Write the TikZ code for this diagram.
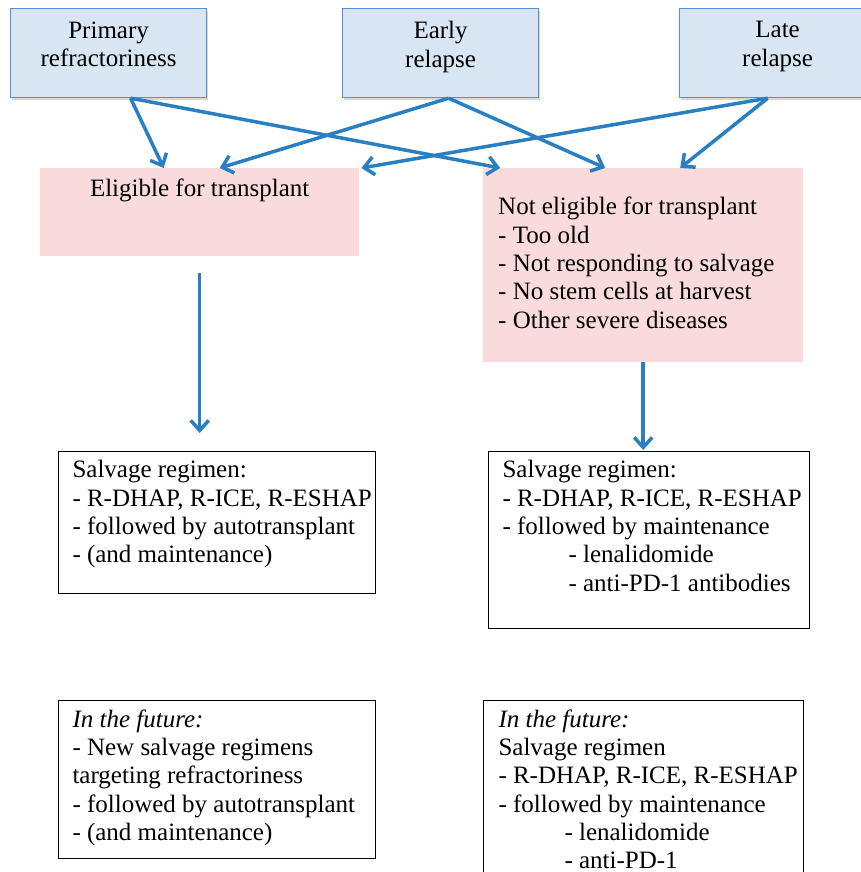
\documentclass[tikz,border=0pt]{standalone}
\usepackage{fontspec}
\setmainfont{Liberation Serif}
\usetikzlibrary{arrows.meta, positioning, shadows}
\definecolor{topfill}{RGB}{216,229,242}
\definecolor{topline}{RGB}{84,144,204}
\definecolor{pinkfill}{RGB}{250,219,219}
\definecolor{arrblue}{RGB}{42,126,194}
\tikzstyle{topbox}=[draw=topline, line width=1.2pt, fill=topfill, anchor=north west, inner xsep=8pt, inner ysep=13pt, drop shadow={shadow xshift=1.5pt, shadow yshift=-2pt, fill=black!30}]
\tikzstyle{pinkbox}=[fill=pinkfill, anchor=north west, inner xsep=4pt]
\tikzstyle{regbox}=[draw=black, line width=1pt, anchor=north west, inner xsep=4pt, inner ysep=9pt]
\tikzstyle{arr}=[line width=3.5pt, draw=arrblue, -{Straight Barb[length=10pt, width=18pt]}]
\newcommand{\boxlines}[3]{\parbox[t][#1][t]{#2}{\raggedright\rightskip=-30pt plus 1fil\leftskip=10pt #3}}

\begin{document}
\begin{tikzpicture}[x=1pt, y=-1pt, font=\fontsize{25}{28.3}\selectfont]
    \path[use as bounding box, fill=white] (0,0) rectangle (861,872);

    % causes
    \node[topbox] (prim) at (10,8) {\boxlines{63pt}{180pt}{\centering Primary\\refractoriness}};
    \node[topbox] (early) at (342,8) {\boxlines{63pt}{180pt}{\centering Early\\relapse}};
    \node[topbox] (late) at (679,8) {\boxlines{63pt}{180pt}{\centering Late\\relapse}};

    % eligibility
    \node[pinkbox, inner ysep=11pt] (elig) at (40,168)
        {\boxlines{66pt}{311pt}{\centering Eligible for transplant}};
    \node[pinkbox, inner ysep=29pt] (nel) at (483,168)
        {\boxlines{136pt}{312pt}{\leftskip=11pt Not eligible for transplant\\
        - Too old\\
        - Not responding to salvage\\
        - No stem cells at harvest\\
        - Other severe diseases}};

    % current treatment
    \node[regbox] (sl) at (58,451)
        {\boxlines{124pt}{309pt}{Salvage regimen:\\
        - R-DHAP, R-ICE, R-ESHAP\\
        - followed by autotransplant\\
        - (and maintenance)}};
    \node[regbox] (sr) at (488,451)
        {\boxlines{159pt}{313pt}{Salvage regimen:\\
        - R-DHAP, R-ICE, R-ESHAP\\
        - followed by maintenance\\
        \hspace*{66pt}- lenalidomide\\
        \hspace*{66pt}- anti-PD-1 antibodies}};

    % future treatment
    \node[regbox] (fl) at (58,700)
        {\boxlines{140pt}{309pt}{\textit{In the future:}\\
        - New salvage regimens\\
        targeting refractoriness\\
        - followed by autotransplant\\
        - (and maintenance)}};
    \node[regbox] (fr) at (483,700)
        {\boxlines{172pt}{312pt}{\leftskip=11pt \textit{In the future:}\\
        Salvage regimen\\
        - R-DHAP, R-ICE, R-ESHAP\\
        - followed by maintenance\\
        \hspace*{66pt}- lenalidomide\\
        \hspace*{66pt}- anti-PD-1}};

    \draw[arr] ([xshift=22pt]prim.south) -- ([xshift=-36pt]elig.north);
    \draw[arr] ([xshift=22pt]prim.south) -- ([xshift=-143pt]nel.north);
    \draw[arr] ([xshift=8pt]early.south) -- ([xshift=20pt]elig.north);
    \draw[arr] ([xshift=8pt]early.south) -- ([xshift=-38pt]nel.north);
    \draw[arr] ([xshift=-10pt]late.south) -- ([xshift=2pt]elig.north east);
    \draw[arr] ([xshift=-10pt]late.south) -- ([xshift=37pt]nel.north);
    \draw[arr] ([yshift=-17pt]elig.south) -- ([yshift=18pt]elig.south |- sl.north);
    \draw[arr] (nel.south) -- ([yshift=1pt]nel.south |- sr.north);
\end{tikzpicture}
\end{document}
